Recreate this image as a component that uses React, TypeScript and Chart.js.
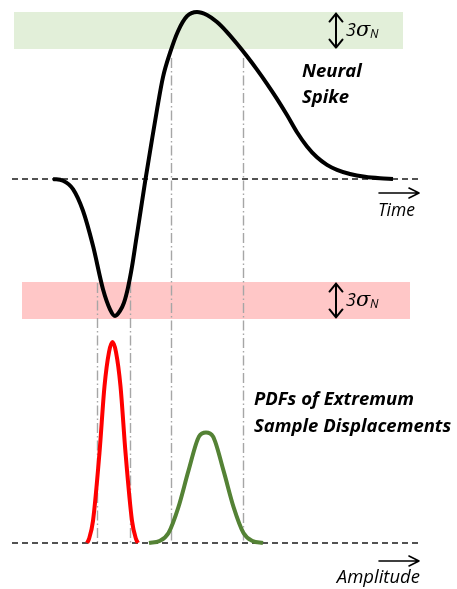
import { useEffect, useRef } from "react";
import { Chart, registerables } from "chart.js";

Chart.register(...registerables);

// Extracellular spike waveform: time (samples) vs. amplitude (µV)
const spikeTime = [53, 63, 73, 83, 93, 103, 110, 115, 120, 124, 128, 132, 136, 140, 145, 151, 157, 163, 170, 178, 187, 197, 207, 217, 227, 237, 247, 257, 267, 277, 287, 297, 307, 317, 327, 337, 350, 365, 380, 393];
const spikeAmplitude = [0, -1, -6, -19, -40, -66, -78, -82, -79, -74, -65, -52.5, -37, -21.5, -2, 20, 41.5, 61, 75.5, 88.5, 97.5, 100, 98.2, 94, 88, 81, 73.5, 65.5, 57, 48, 38.3, 28, 19.5, 13, 8.5, 5.5, 3, 1.3, 0.4, 0];

// PDF of the trough (negative extremum) sample displacement
const troughPdfX = [87, 89, 93, 99.5, 104.5, 109, 112.5, 116, 120.5, 125.5, 132, 136, 138];
const troughPdfDensity = [0, 0.02, 0.11, 0.45, 0.78, 0.95, 1.0, 0.95, 0.78, 0.45, 0.11, 0.02, 0];

// PDF of the peak (positive extremum) sample displacement
const peakPdfX = [149, 159.5, 168.5, 178.5, 188.5, 199, 206, 213, 223.5, 233.5, 243.5, 252.5, 263];
const peakPdfDensity = [0, 0.01, 0.05, 0.18, 0.36, 0.53, 0.55, 0.53, 0.36, 0.18, 0.05, 0.01, 0];

// ±3σ noise bands around the extrema
const peakBandX = [14, 403];
const peakBandY = [77.8, 100];
const troughBandX = [22, 410];
const troughBandY = [-83.8, -61.7];

// Where the spike leaves each noise band
const troughGuideX = [97, 130];
const troughGuideTop = -62.3;
const peakGuideX = [171, 243];
const peakGuideTop = 72.5;

// Zero lines of both panels
const baselineX = [12, 420];

// Axis limits for the two stacked panels
const spikeAxisRange = [-245.5, 107.2];
const pdfAxisRange = [-0.229, 2.7015];

const FONT = '"Open Sans", "DejaVu Sans", sans-serif';

const toPoints = (xs: number[], ys: number[]) => xs.map((x, i) => ({ x, y: ys[i] }));

function drawDoubleArrow(ctx: CanvasRenderingContext2D, x: number, y1: number, y2: number) {
  const hw = 6.5;
  const hl = 8;
  ctx.save();
  ctx.strokeStyle = "#000";
  ctx.lineWidth = 2;
  ctx.lineCap = "round";
  ctx.lineJoin = "round";
  ctx.beginPath();
  ctx.moveTo(x, y1);
  ctx.lineTo(x, y2);
  ctx.moveTo(x - hw, y1 + hl);
  ctx.lineTo(x, y1);
  ctx.lineTo(x + hw, y1 + hl);
  ctx.moveTo(x - hw, y2 - hl);
  ctx.lineTo(x, y2);
  ctx.lineTo(x + hw, y2 - hl);
  ctx.stroke();
  ctx.restore();
}

function drawRightArrow(ctx: CanvasRenderingContext2D, x1: number, x2: number, y: number) {
  ctx.save();
  ctx.strokeStyle = "#000";
  ctx.lineWidth = 1.6;
  ctx.lineCap = "round";
  ctx.lineJoin = "round";
  ctx.beginPath();
  ctx.moveTo(x1, y);
  ctx.lineTo(x2, y);
  ctx.moveTo(x2 - 10, y - 5);
  ctx.lineTo(x2, y);
  ctx.lineTo(x2 - 10, y + 5);
  ctx.stroke();
  ctx.restore();
}

function drawSigmaLabel(ctx: CanvasRenderingContext2D, x: number, baseline: number) {
  ctx.save();
  ctx.fillStyle = "#000";
  ctx.textAlign = "left";
  ctx.textBaseline = "alphabetic";
  ctx.font = `italic 18px ${FONT}`;
  ctx.fillText("3", x, baseline);
  ctx.font = `italic 21px "DejaVu Serif", serif`;
  ctx.fillText("σ", x + 10, baseline);
  ctx.font = `italic 12px ${FONT}`;
  ctx.fillText("N", x + 24, baseline + 2);
  ctx.restore();
}

const overlayPlugin = {
  id: "overlay",
  beforeDatasetsDraw(chart: Chart) {
    const { ctx, scales } = chart;
    const xs = scales.x;
    const ys = scales.ySpike;
    const yp = scales.yPdf;
    const guides: [number, number][] = [
      ...troughGuideX.map((g) => [g, troughGuideTop] as [number, number]),
      ...peakGuideX.map((g) => [g, peakGuideTop] as [number, number]),
    ];
    ctx.save();
    ctx.strokeStyle = "#a6a6a6";
    ctx.lineWidth = 1.4;
    ctx.setLineDash([10, 3, 1.5, 3]);
    for (const [gx, top] of guides) {
      const px = Math.round(xs.getPixelForValue(gx)) + 0.5;
      ctx.beginPath();
      ctx.moveTo(px, ys.getPixelForValue(top));
      ctx.lineTo(px, yp.getPixelForValue(0));
      ctx.stroke();
    }
    ctx.restore();
  },
  afterDraw(chart: Chart) {
    const { ctx, scales } = chart;
    const xs = scales.x;
    const ys = scales.ySpike;
    const yp = scales.yPdf;

    // 3σ arrows spanning each noise band
    const ax = xs.getPixelForValue(336);
    drawDoubleArrow(ctx, ax, ys.getPixelForValue(peakBandY[1]) + 1.5, ys.getPixelForValue(peakBandY[0]) - 1.5);
    drawDoubleArrow(ctx, ax, ys.getPixelForValue(troughBandY[1]) + 1.5, ys.getPixelForValue(troughBandY[0]) - 1.5);
    const peakMid = (ys.getPixelForValue(peakBandY[0]) + ys.getPixelForValue(peakBandY[1])) / 2;
    const troughMid = (ys.getPixelForValue(troughBandY[0]) + ys.getPixelForValue(troughBandY[1])) / 2;
    drawSigmaLabel(ctx, ax + 10, peakMid + 5.5);
    drawSigmaLabel(ctx, ax + 10, troughMid + 5.5);

    // Axis direction arrows
    const spikeZero = ys.getPixelForValue(0);
    const pdfZero = yp.getPixelForValue(0);
    drawRightArrow(ctx, xs.getPixelForValue(379), xs.getPixelForValue(419), spikeZero + 14);
    drawRightArrow(ctx, xs.getPixelForValue(379), xs.getPixelForValue(419), pdfZero + 18);

    ctx.save();
    ctx.fillStyle = "#000";
    ctx.textBaseline = "alphabetic";
    ctx.textAlign = "right";
    ctx.font = `italic 17.5px ${FONT}`;
    ctx.fillText("Time", 415, spikeZero + 37);
    ctx.font = `italic 18.5px ${FONT}`;
    ctx.fillText("Amplitude", 420, pdfZero + 40);

    ctx.textAlign = "left";
    ctx.font = `italic bold 18.5px ${FONT}`;
    ctx.fillText("Neural", 302, 77);
    ctx.fillText("Spike", 302, 103);
    ctx.fillText("PDFs of Extremum", 254, 405);
    ctx.fillText("Sample Displacements", 254, 432);
    ctx.restore();
  },
};

export default function App() {
  const canvasRef = useRef<HTMLCanvasElement | null>(null);

  useEffect(() => {
    const canvas = canvasRef.current;
    if (!canvas) return;

    const line = (extra: Record<string, unknown>) => ({
      pointRadius: 0,
      pointHoverRadius: 0,
      fill: false,
      ...extra,
    });

    const chart = new Chart(canvas, {
      type: "line",
      data: {
        datasets: [
          line({
            label: "Neural spike",
            data: toPoints(spikeTime, spikeAmplitude),
            yAxisID: "ySpike",
            borderColor: "#000000",
            borderWidth: 4,
            cubicInterpolationMode: "monotone",
            borderJoinStyle: "round",
          }),
          line({
            label: "Trough PDF",
            data: toPoints(troughPdfX, troughPdfDensity),
            yAxisID: "yPdf",
            borderColor: "#ff0000",
            borderWidth: 4,
            cubicInterpolationMode: "monotone",
          }),
          line({
            label: "Peak PDF",
            data: toPoints(peakPdfX, peakPdfDensity),
            yAxisID: "yPdf",
            borderColor: "#548235",
            borderWidth: 4,
            cubicInterpolationMode: "monotone",
          }),
          line({
            label: "Spike baseline",
            data: toPoints(baselineX, [0, 0]),
            yAxisID: "ySpike",
            borderColor: "#1a1a1a",
            borderWidth: 1.4,
            borderDash: [6, 4],
          }),
          line({
            label: "PDF baseline",
            data: toPoints(baselineX, [0, 0]),
            yAxisID: "yPdf",
            borderColor: "#1a1a1a",
            borderWidth: 1.4,
            borderDash: [6, 4],
          }),
          line({
            label: "Peak noise band",
            data: toPoints(peakBandX, [peakBandY[1], peakBandY[1]]),
            yAxisID: "ySpike",
            borderWidth: 0,
            borderColor: "rgba(0,0,0,0)",
            backgroundColor: "#e2efd9",
            fill: { value: peakBandY[0] },
          }),
          line({
            label: "Trough noise band",
            data: toPoints(troughBandX, [troughBandY[1], troughBandY[1]]),
            yAxisID: "ySpike",
            borderWidth: 0,
            borderColor: "rgba(0,0,0,0)",
            backgroundColor: "#ffc7c7",
            fill: { value: troughBandY[0] },
          }),
        ],
      },
      options: {
        responsive: false,
        maintainAspectRatio: false,
        devicePixelRatio: 1,
        animation: false,
        layout: { padding: 0 },
        events: [],
        scales: {
          x: { type: "linear", min: 0, max: 457, display: false },
          ySpike: { type: "linear", min: spikeAxisRange[0], max: spikeAxisRange[1], display: false },
          yPdf: { type: "linear", min: pdfAxisRange[0], max: pdfAxisRange[1], display: false },
        },
        plugins: {
          legend: { display: false },
          title: { display: false },
          tooltip: { enabled: false },
          filler: { drawTime: "beforeDatasetsDraw" },
        },
      } as any,
      plugins: [overlayPlugin as any],
    });

    return () => chart.destroy();
  }, []);

  return (
    <div style={{ position: "absolute", left: 0, top: 0, width: 457, height: 589, background: "#fff" }}>
      <canvas ref={canvasRef} width={457} height={589} />
    </div>
  );
}
